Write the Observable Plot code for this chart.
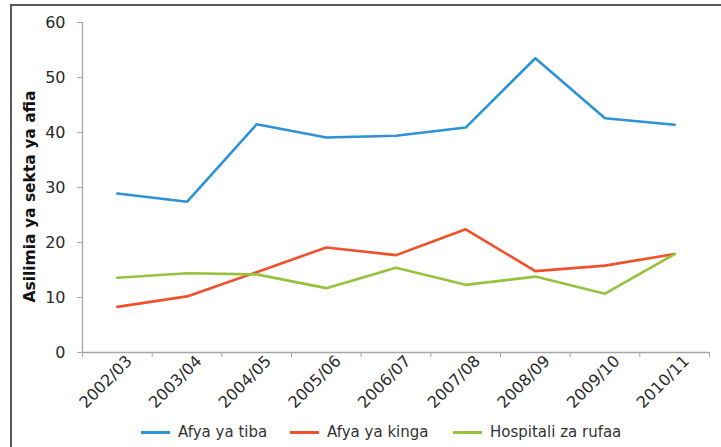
<!DOCTYPE html>
<html>
<head>
<meta charset="utf-8">
<script src="https://cdn.jsdelivr.net/npm/d3@7"></script>
<script src="https://cdn.jsdelivr.net/npm/@observablehq/plot@0.6"></script>
<style>
  html, body { margin: 0; padding: 0; background: #fff; overflow: hidden; }
  #wrap { position: relative; width: 721px; height: 447px; overflow: hidden; font-family: "DejaVu Sans", sans-serif; }
  #frame { position: absolute; left: 10px; top: 4px; width: 800px; height: 500px; border-left: 2px solid #5a5a5a; border-top: 2px solid #5a5a5a; }
  #chart { position: absolute; left: 0; top: 0; }
  .leg { position: absolute; top: 422px; font-size: 15px; color: #333; white-space: nowrap; line-height: 20px; }
  .sw { position: absolute; width: 29px; height: 3px; top: 431px; }
</style>
</head>
<body>
<div id="wrap">
  <div id="frame"></div>
  <div id="chart"></div>
</div>
<script>
const years = ["2002/03","2003/04","2004/05","2005/06","2006/07","2007/08","2008/09","2009/10","2010/11"];
const afyaTiba = [28.9, 27.4, 41.5, 39.1, 39.4, 40.9, 53.5, 42.6, 41.4];
const afyaKinga = [8.3, 10.2, 14.6, 19.1, 17.7, 22.4, 14.8, 15.8, 17.9];
const hospitali = [13.6, 14.4, 14.2, 11.7, 15.4, 12.3, 13.8, 10.7, 17.9];
const seriesNames = ["Afya ya tiba", "Afya ya kinga", "Hospitali za rufaa"];
const seriesColors = ["#2b93d6", "#f0502a", "#97c23d"];
const yTicks = [0, 10, 20, 30, 40, 50, 60];
const yLabel = "Asilimia ya sekta ya afia";

const seriesValues = [afyaTiba, afyaKinga, hospitali];
const rows = [];
seriesValues.forEach((vals, s) => vals.forEach((v, i) => rows.push({i, series: seriesNames[s], value: v})));
const boundaries = d3.range(years.length + 1).map(k => k - 0.5);

const plot = Plot.plot({
  width: 721,
  height: 420,
  marginLeft: 82,
  marginRight: 12,
  marginTop: 22,
  marginBottom: 68,
  style: {fontFamily: "DejaVu Sans, sans-serif", fontSize: "15px", color: "#2a2a2a", background: "transparent", overflow: "visible"},
  x: {type: "linear", domain: [-0.5, years.length - 0.5]},
  y: {domain: [0, 60]},
  color: {domain: seriesNames, range: seriesColors},
  marks: [
    Plot.ruleX([-0.5], {stroke: "#a6a6a6", strokeWidth: 1.3}),
    Plot.ruleY([0], {stroke: "#a6a6a6", strokeWidth: 1.3}),
    Plot.axisY({ticks: yTicks, tickSize: 5, tickPadding: 12, stroke: "#a6a6a6", label: null, fontSize: 16}),
    Plot.axisX({ticks: boundaries, tickSize: 5, tickFormat: () => "", stroke: "#a6a6a6", label: null}),
    Plot.axisX({ticks: d3.range(years.length), tickSize: 0, tickFormat: i => years[i], tickRotate: -45, tickPadding: 10, dx: 12, dy: -4, label: null, fontSize: 16}),
    Plot.text([yLabel], {frameAnchor: "left", textAnchor: "middle", rotate: -90, dx: -52, dy: 9, fontWeight: "bold", fontSize: 15.5, fill: "#111"}),
    Plot.line(rows, {x: "i", y: "value", stroke: "series", z: "series", strokeWidth: 2.6})
  ]
});
document.getElementById("chart").appendChild(plot);

const legendX = [141, 290, 453];
const wrap = document.getElementById("wrap");
seriesNames.forEach((name, s) => {
  const sw = document.createElement("div");
  sw.className = "sw";
  sw.style.left = legendX[s] + "px";
  sw.style.background = seriesColors[s];
  wrap.appendChild(sw);
  const t = document.createElement("div");
  t.className = "leg";
  t.style.left = (legendX[s] + 37) + "px";
  t.textContent = name;
  wrap.appendChild(t);
});
</script>
</body>
</html>
